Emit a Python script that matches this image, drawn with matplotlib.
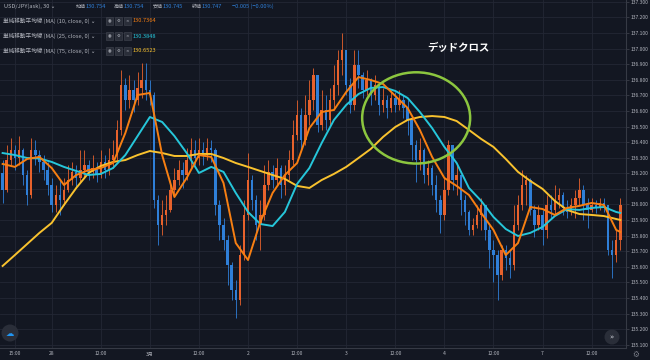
import numpy as np
import matplotlib.pyplot as plt
from matplotlib.patches import Ellipse, Rectangle

plt.rcParams['font.family'] = ['Noto Sans CJK JP', 'DejaVu Sans']

# --- data (USD/JPY, candles) ---
first_open = 136.200
close = [
    136.093, 136.285, 136.350, 136.298, 136.350, 136.189, 136.061, 136.350, 136.317, 136.273,
    136.221, 136.125, 135.997, 136.061, 136.029, 136.093, 136.157, 136.209, 136.170, 136.221,
    136.253, 136.209, 136.234, 136.189, 136.273, 136.221, 136.285, 136.317, 136.478, 136.766,
    136.670, 136.734, 136.670, 136.747, 136.798, 136.734, 136.702, 136.029, 135.869, 135.933,
    135.965, 136.093, 136.157, 136.221, 136.189, 136.285, 136.350, 136.298, 136.350, 136.317,
    136.362, 136.350, 135.997, 135.869, 135.773, 135.612, 135.452, 135.388, 135.676, 135.933,
    136.157, 136.029, 135.869, 135.933, 136.125, 136.209, 136.157, 136.234, 136.125, 136.189,
    136.285, 136.446, 136.574, 136.414, 136.574, 136.670, 136.830, 136.510, 136.606, 136.542,
    136.670, 136.766, 136.926, 136.990, 136.766, 136.638, 136.894, 136.830, 136.734, 136.798,
    136.702, 136.766, 136.638, 136.670, 136.619, 136.683, 136.638, 136.670, 136.619, 136.542,
    136.382, 136.285, 136.350, 136.189, 136.234, 136.125, 136.029, 135.933, 136.093, 136.382,
    136.157, 136.189, 136.029, 135.952, 135.837, 135.869, 135.933, 135.997, 135.837, 135.709,
    135.676, 135.548, 135.709, 135.657, 135.612, 135.869, 135.997, 136.125, 136.157, 135.965,
    135.869, 135.933, 135.837, 135.997, 135.965, 136.029, 136.061, 135.978, 135.952, 135.997,
    136.042, 136.093, 135.997, 135.965, 135.997, 135.978, 136.010, 135.997, 135.709, 135.676,
    135.773, 135.997]
high = [
    136.285, 136.382, 136.426, 136.382, 136.439, 136.362, 136.221, 136.426, 136.414, 136.350,
    136.317, 136.273, 136.170, 136.125, 136.157, 136.170, 136.253, 136.273, 136.253, 136.350,
    136.350, 136.285, 136.317, 136.273, 136.350, 136.317, 136.362, 136.414, 136.542, 136.862,
    136.811, 136.830, 136.798, 136.850, 136.907, 136.907, 136.798, 136.721, 136.061, 136.029,
    136.061, 136.157, 136.234, 136.285, 136.273, 136.362, 136.426, 136.414, 136.426, 136.401,
    136.426, 136.414, 136.362, 136.029, 135.914, 135.805, 135.632, 135.516, 135.741, 136.029,
    136.330, 136.189, 136.061, 136.029, 136.253, 136.285, 136.253, 136.298, 136.253, 136.253,
    136.350, 136.542, 136.670, 136.619, 136.702, 136.798, 136.875, 136.811, 136.734, 136.702,
    136.747, 136.894, 136.990, 137.100, 136.990, 136.811, 136.990, 136.990, 136.850, 136.862,
    136.811, 136.830, 136.785, 136.747, 136.702, 136.734, 136.721, 136.734, 136.702, 136.670,
    136.555, 136.414, 136.426, 136.362, 136.285, 136.253, 136.189, 136.061, 136.170, 136.414,
    136.350, 136.253, 136.189, 136.061, 135.965, 135.914, 135.997, 136.042, 135.997, 135.869,
    135.773, 135.709, 135.741, 135.741, 135.709, 135.997, 136.061, 136.221, 136.189, 136.170,
    135.997, 135.997, 135.965, 136.061, 136.061, 136.125, 136.106, 136.080, 136.029, 136.042,
    136.093, 136.170, 136.125, 136.042, 136.042, 136.029, 136.042, 136.042, 135.997, 135.773,
    135.837, 136.042]
low = [
    136.010, 136.080, 136.253, 136.221, 136.253, 136.125, 135.997, 136.042, 136.253, 136.209,
    136.157, 136.061, 135.952, 135.952, 135.933, 135.997, 136.080, 136.125, 136.106, 136.144,
    136.170, 136.157, 136.170, 136.144, 136.170, 136.170, 136.189, 136.234, 136.285, 136.446,
    136.606, 136.619, 136.593, 136.638, 136.683, 136.670, 136.638, 135.978, 135.741, 135.805,
    135.869, 135.952, 136.061, 136.125, 136.106, 136.157, 136.234, 136.253, 136.253, 136.253,
    136.285, 136.273, 135.933, 135.773, 135.709, 135.484, 135.388, 135.273, 135.356, 135.644,
    135.901, 135.965, 135.773, 135.709, 135.901, 136.093, 136.106, 136.125, 136.042, 136.061,
    136.157, 136.253, 136.414, 136.350, 136.382, 136.510, 136.606, 136.465, 136.478, 136.478,
    136.510, 136.606, 136.702, 136.830, 136.702, 136.587, 136.606, 136.747, 136.683, 136.702,
    136.638, 136.670, 136.574, 136.593, 136.555, 136.593, 136.593, 136.606, 136.555, 136.446,
    136.285, 136.144, 136.221, 136.138, 136.125, 136.061, 135.952, 135.818, 135.901, 136.061,
    136.093, 136.061, 135.933, 135.869, 135.805, 135.805, 135.850, 135.837, 135.773, 135.593,
    135.503, 135.388, 135.516, 135.580, 135.529, 135.580, 135.837, 135.965, 135.997, 135.933,
    135.792, 135.837, 135.741, 135.786, 135.914, 135.933, 135.978, 135.933, 135.914, 135.933,
    135.914, 135.997, 135.901, 135.850, 135.952, 135.946, 135.965, 135.952, 135.676, 135.529,
    135.632, 135.709]

# moving averages, sampled every 3rd candle
ma_idx = list(range(0, 151, 3)) + [151]
ma10 = [
    136.260, 136.241, 136.292, 136.305, 136.234, 136.125, 136.189, 136.221, 136.234, 136.266,
    136.458, 136.702, 136.715, 136.317, 136.048, 136.170, 136.317, 136.305, 136.138, 135.753,
    135.644, 135.888, 136.074, 136.189, 136.266, 136.490, 136.593, 136.606, 136.721, 136.817,
    136.798, 136.773, 136.696, 136.619, 136.478, 136.305, 136.170, 136.119, 136.061, 135.946,
    135.837, 135.676, 135.753, 135.984, 135.971, 135.933, 135.978, 135.991, 136.010, 135.997,
    135.837, 135.824]
ma25 = [
    136.330, 136.317, 136.298, 136.295, 136.273, 136.241, 136.215, 136.189, 136.196, 136.234,
    136.317, 136.439, 136.561, 136.529, 136.439, 136.330, 136.202, 136.241, 136.209, 136.074,
    135.952, 135.875, 135.862, 135.952, 136.132, 136.234, 136.394, 136.542, 136.638, 136.708,
    136.747, 136.753, 136.728, 136.683, 136.593, 136.490, 136.369, 136.266, 136.106, 136.023,
    135.920, 135.843, 135.798, 135.818, 135.856, 135.926, 135.971, 135.965, 135.978, 135.984,
    135.952, 135.946]
ma75 = [
    135.606, 135.676, 135.747, 135.818, 135.882, 135.997, 136.106, 136.202, 136.247, 136.273,
    136.285, 136.317, 136.343, 136.330, 136.311, 136.311, 136.324, 136.324, 136.298, 136.266,
    136.241, 136.215, 136.189, 136.164, 136.119, 136.106, 136.157, 136.196, 136.241, 136.298,
    136.356, 136.433, 136.497, 136.542, 136.561, 136.567, 136.561, 136.535, 136.478, 136.420,
    136.369, 136.292, 136.209, 136.151, 136.100, 136.023, 135.965, 135.939, 135.933, 135.926,
    135.907, 135.901]

tick_pos = [3, 12, 24, 36, 48, 60, 72, 84, 96, 108, 120, 132, 144]
tick_lab = ['15:00', '28', '12:00', '3月', '12:00', '2', '12:00', '3', '12:00',
            '4', '12:00', '7', '12:00']
price_ticks = np.round(np.arange(135.1, 137.31, 0.1), 1)

# --- style ---
bg = '#131722'
grid_c = '#232734'
txt_c = '#b2b5be'
up_c = '#e8622c'
dn_c = '#2f7fd8'

W, H = 650, 360
def fx(px):
    return px / W
def fy(py):
    return 1 - py / H

fig = plt.figure(figsize=(6.5, 3.6), dpi=100, facecolor=bg)
ax = fig.add_axes([0, 12 / H, 626 / W, 348 / H])
ax.set_facecolor(bg)

c = np.array(close)
o = np.concatenate([[first_open], c[:-1]])
h = np.maximum(np.array(high), np.maximum(o, c))
l = np.minimum(np.array(low), np.minimum(o, c))
x = np.arange(len(c))
cols = np.where(c >= o, up_c, dn_c)

ax.vlines(x, l, h, colors=cols, lw=0.6, zorder=2)
body = np.where(np.abs(c - o) < 0.004, 0.004, c - o)
ax.bar(x, body, bottom=o, width=0.6, color=cols, lw=0, zorder=3)

ax.plot(ma_idx, ma75, color='#f9c22e', lw=1.4, zorder=4)
ax.plot(ma_idx, ma25, color='#26c6da', lw=1.4, zorder=5)
ax.plot(ma_idx, ma10, color='#f77f12', lw=1.4, zorder=6)

ax.add_patch(Ellipse((101.1, 136.555), 26.4, 0.585, fill=False,
                     ec='#8cc63f', lw=1.8, zorder=7))

ax.set_xlim(-0.64, 152.4)
ax.set_ylim(135.080, 137.311)
ax.set_xticks(tick_pos, tick_lab)
ax.yaxis.tick_right()
ax.set_yticks(price_ticks, [f'{p:.3f}' for p in price_ticks])
ax.tick_params(axis='x', length=0, pad=2.5, labelsize=3.6, labelcolor=txt_c)
ax.tick_params(axis='y', length=2, width=0.5, color='#434651', pad=1.5,
               labelsize=3.6, labelcolor=txt_c)
ax.grid(color=grid_c, lw=0.6)
ax.set_axisbelow(True)
for s in ['top', 'left']:
    ax.spines[s].set_visible(False)
for s in ['right', 'bottom']:
    ax.spines[s].set_color('#363a45')
    ax.spines[s].set_linewidth(0.8)

fig.text(fx(458), fy(48), 'デッドクロス', color='white', fontsize=7.5,
         fontweight='bold', ha='center', va='center')

# legend header
fs = 4.1
fig.text(fx(4), fy(6), 'USD/JPY(ask), 30 ⌄', color=txt_c, fontsize=fs, va='center')
ohlc = [('始値', '130.754', 86), ('高値', '130.754', 124),
        ('安値', '130.745', 163), ('終値', '130.747', 202)]
for lab, val, px in ohlc:
    fig.text(fx(px - 0.5), fy(6), lab, color=txt_c, fontsize=3.6, va='center', ha='right')
    fig.text(fx(px), fy(6), val, color=dn_c, fontsize=fs, va='center')
fig.text(fx(232), fy(6), '−0.005 (−0.00%)', color=dn_c, fontsize=fs, va='center')

ma_rows = [('10', '130.7364', '#f77f12', 21), ('25', '130.3848', '#26c6da', 36),
           ('75', '130.6523', '#f9c22e', 51)]
for n, val, colr, py in ma_rows:
    fig.text(fx(3), fy(py), f'単純移動平均線 (MA) ({n}, close, 0) ⌄', color=txt_c,
             fontsize=fs, va='center')
    for bx, g in zip([106, 115, 124], ['◉', '⚙', '×']):
        fig.patches.append(Rectangle((fx(bx), fy(py + 3.5)), 7 / W, 7 / H,
                                     transform=fig.transFigure, fc='#2a2e39',
                                     ec='#434651', lw=0.4))
        fig.text(fx(bx + 3.5), fy(py), g, color=txt_c, fontsize=3,
                 ha='center', va='center', family='DejaVu Sans')
    fig.text(fx(133), fy(py), val, color=colr, fontsize=fs, va='center')

# chart buttons
fig.patches.append(Ellipse((fx(10), fy(333)), 17 / W, 17 / H, transform=fig.transFigure,
                           fc='#2a2e39', ec='none'))
fig.text(fx(10), fy(333), '☁', color='#2196f3', fontsize=6, ha='center', va='center',
         family='DejaVu Sans')
fig.patches.append(Ellipse((fx(612), fy(337)), 15 / W, 15 / H, transform=fig.transFigure,
                           fc='#2a2e39', ec='none'))
fig.text(fx(612), fy(337), '»', color='#d1d4dc', fontsize=5, ha='center', va='center',
         family='DejaVu Sans')
fig.text(fx(636), fy(354), '⚙', color='#787b86', fontsize=5.5, ha='center', va='center',
         family='DejaVu Sans')

fig.savefig('out.png', dpi=100, facecolor=bg)
